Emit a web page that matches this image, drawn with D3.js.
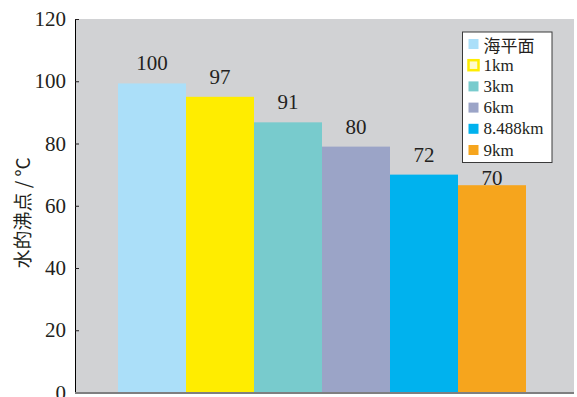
<!DOCTYPE html>
<html>
<head>
<meta charset="utf-8">
<script src="https://cdn.jsdelivr.net/npm/d3@7"></script>
<style>
  body { margin: 0; background: #fff; }
</style>
</head>
<body>
<div id="chart"></div>
<script>
var categories = ["海平面", "1km", "3km", "6km", "8.488km", "9km"];
var barValues = [99.3, 95, 86.8, 79, 70, 66.6];
var labelTexts = ["100", "97", "91", "80", "72", "70"];
var yTicks = [0, 20, 40, 60, 80, 100, 120];
var colors = ["#abdff9", "#ffed00", "#78cbcd", "#9ba4c7", "#00b2ee", "#f6a51d"];

var serif = "Liberation Serif";
var width = 577, height = 397;
var plot = { left: 75, right: 574, top: 19, bottom: 392.5 };
var legendBox = { x: 462.5, y: 32, w: 89.5, h: 130.5 };

var svg = d3.select("#chart").append("svg")
  .attr("width", width)
  .attr("height", height);

var y = d3.scaleLinear().domain([0, 120]).range([plot.bottom, plot.top]);
var x = d3.scaleBand().domain(categories).range([118, 526]).padding(0);
var color = d3.scaleOrdinal().domain(categories).range(colors);

// plot background
svg.append("rect")
  .attr("x", plot.left).attr("y", plot.top)
  .attr("width", plot.right - plot.left)
  .attr("height", plot.bottom - plot.top)
  .attr("fill", "#d1d2d4");

// bars
svg.selectAll(".bar")
  .data(barValues)
  .enter().append("rect")
  .attr("class", "bar")
  .attr("x", function(d, i) { return x(categories[i]); })
  .attr("width", x.bandwidth())
  .attr("y", function(d) { return y(d); })
  .attr("height", function(d) { return y(0) - y(d); })
  .attr("fill", function(d, i) { return color(categories[i]); });

// value labels (pushed below the legend when a bar sits under it)
svg.selectAll(".vlabel")
  .data(barValues)
  .enter().append("text")
  .attr("class", "vlabel")
  .attr("x", function(d, i) { return x(categories[i]) + x.bandwidth() / 2; })
  .attr("y", function(d, i) {
    var ty = y(d) - 13;
    var cx = x(categories[i]) + x.bandwidth() / 2;
    if (cx > legendBox.x && ty < legendBox.y + legendBox.h + 22) ty = legendBox.y + legendBox.h + 22;
    return ty;
  })
  .attr("text-anchor", "middle")
  .attr("font-family", serif)
  .attr("font-size", 21)
  .attr("fill", "#231f20")
  .text(function(d, i) { return labelTexts[i]; });

// y axis
var yAxis = d3.axisLeft(y).tickValues(yTicks).tickSizeInner(-4).tickSizeOuter(0).tickPadding(9);
var gy = svg.append("g")
  .attr("transform", "translate(" + plot.left + ",0)")
  .call(yAxis)
  .attr("font-family", serif)
  .attr("font-size", 21);
gy.select(".domain").attr("stroke", "#000");
gy.selectAll(".tick line").attr("stroke", "#231f20");
gy.selectAll(".tick text").attr("fill", "#231f20");

// bottom axis line
svg.append("line")
  .attr("x1", plot.left).attr("x2", plot.right)
  .attr("y1", plot.bottom + 0.5).attr("y2", plot.bottom + 0.5)
  .attr("stroke", "#7f7f80")
  .attr("stroke-width", 2);

// y axis title
svg.append("text")
  .attr("transform", "translate(21,213) rotate(-90)")
  .attr("text-anchor", "middle")
  .attr("dominant-baseline", "central")
  .attr("font-family", "Noto Sans CJK SC")
  .attr("font-size", 19)
  .attr("fill", "#231f20")
  .text("水的沸点 / °C");

// legend
var legend = svg.append("g").attr("transform", "translate(" + legendBox.x + "," + legendBox.y + ")");
legend.append("rect")
  .attr("width", legendBox.w).attr("height", legendBox.h)
  .attr("fill", "#fff")
  .attr("stroke", "#3a3a3a")
  .attr("stroke-width", 1);

var items = legend.selectAll(".item")
  .data(categories)
  .enter().append("g")
  .attr("class", "item")
  .attr("transform", function(d, i) { return "translate(6," + (12 + i * 21.2) + ")"; });

items.append("rect")
  .attr("x", 0).attr("y", -5)
  .attr("width", 10).attr("height", 10)
  .attr("fill", function(d) { return d === "1km" ? "#fffbcc" : color(d); })
  .attr("stroke", function(d) { return d === "1km" ? color(d) : "none"; })
  .attr("stroke-width", 2.5);

items.append("text")
  .attr("x", 15)
  .attr("y", 0)
  .attr("dominant-baseline", "central")
  .attr("font-family", function(d) { return d === "海平面" ? "Noto Sans CJK SC" : serif; })
  .attr("font-size", 17)
  .attr("fill", "#231f20")
  .text(function(d) { return d; });
</script>
</body>
</html>
